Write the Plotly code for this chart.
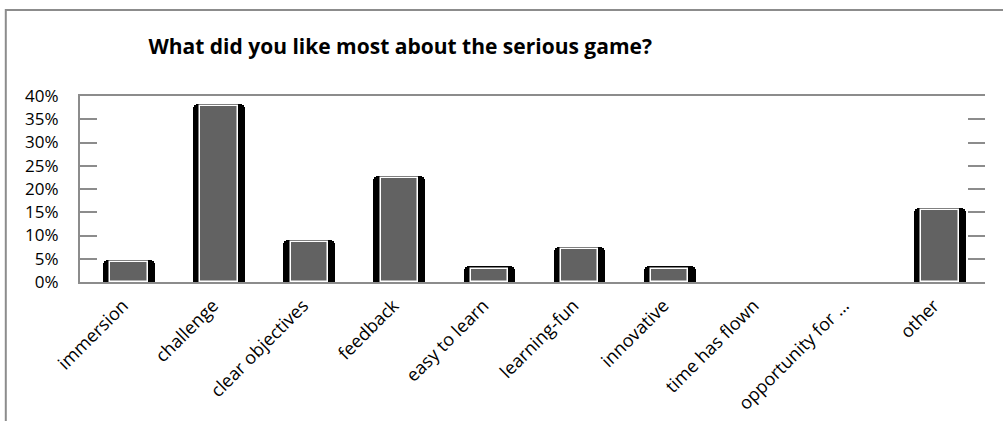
import plotly.graph_objects as go

# Survey answers: share of respondents (%) per liked aspect
categories = [
    "immersion", "challenge", "clear objectives", "feedback", "easy to learn",
    "learning-fun", "innovative", "time has flown", "opportunity for …", "other",
]
shares = [4.2, 37.8, 8.5, 22.3, 2.9, 7.0, 2.9, 0.0, 0.0, 15.4]
y_ticks = [0, 5, 10, 15, 20, 25, 30, 35, 40]
y_tick_labels = [f"{v}%" for v in y_ticks]

title_text = "What did you like most about the serious game?"

AXIS_GREY = "#8c8c8c"
FILL_GREY = "#626262"
FONT = "Open Sans"

# thickness of the dark bevel rim above the inner face, in axis units
BEVEL = 0.45
rim = [v + BEVEL if v > 0 else 0 for v in shares]

fig = go.Figure()

# dark beveled body of each column
fig.add_trace(go.Bar(
    x=categories, y=rim, width=0.575,
    marker=dict(color="black", line=dict(width=0), cornerradius=5),
    hoverinfo="skip", showlegend=False,
))
# lighter face with a white rim
fig.add_trace(go.Bar(
    x=categories, y=shares, width=0.415,
    marker=dict(color=FILL_GREY, line=dict(color="white", width=1.5)),
    showlegend=False,
))
# carrier for the right-hand tick marks
fig.add_trace(go.Scatter(
    x=[categories[0]], y=[0], yaxis="y2", mode="markers",
    marker=dict(opacity=0), hoverinfo="skip", showlegend=False,
))

fig.update_layout(
    width=1003, height=421,
    margin=dict(l=80, r=18, t=96, b=139),
    paper_bgcolor="white", plot_bgcolor="white",
    barmode="overlay", bargap=0,
    font=dict(family=FONT, color="black"),
    title=dict(
        text=title_text, x=0.399, xanchor="center", y=0.89, yanchor="middle",
        font=dict(family=FONT, size=21, color="black", weight="bold"),
    ),
    xaxis=dict(
        type="category", showgrid=False, ticks="", zeroline=False,
        showline=True, linecolor=AXIS_GREY, linewidth=2, mirror=True,
        tickangle=-45, tickfont=dict(family=FONT, size=18, color="black"),
        ticklabelshift=-6, ticklabelstandoff=4, automargin=False,
    ),
    yaxis=dict(
        range=[0, 40], tickmode="array", tickvals=y_ticks, ticktext=y_tick_labels,
        showgrid=False, zeroline=False,
        showline=True, linecolor=AXIS_GREY, linewidth=2,
        ticks="inside", ticklen=17, tickwidth=2, tickcolor=AXIS_GREY,
        tickfont=dict(family=FONT, size=17, color="black"),
        ticklabelstandoff=16, automargin=False,
    ),
    yaxis2=dict(
        range=[0, 40], tickvals=y_ticks, overlaying="y", side="right",
        showgrid=False, zeroline=False, showline=False, showticklabels=False,
        ticks="inside", ticklen=17, tickwidth=2, tickcolor=AXIS_GREY,
        automargin=False,
    ),
    shapes=[
        # outer chart frame (left and top edges)
        dict(type="path", xref="paper", yref="paper",
             path="M -0.082,-0.8 L -0.082,1.462 L 1.05,1.462",
             line=dict(color=AXIS_GREY, width=2)),
    ],
)

fig.write_html("out.html")
